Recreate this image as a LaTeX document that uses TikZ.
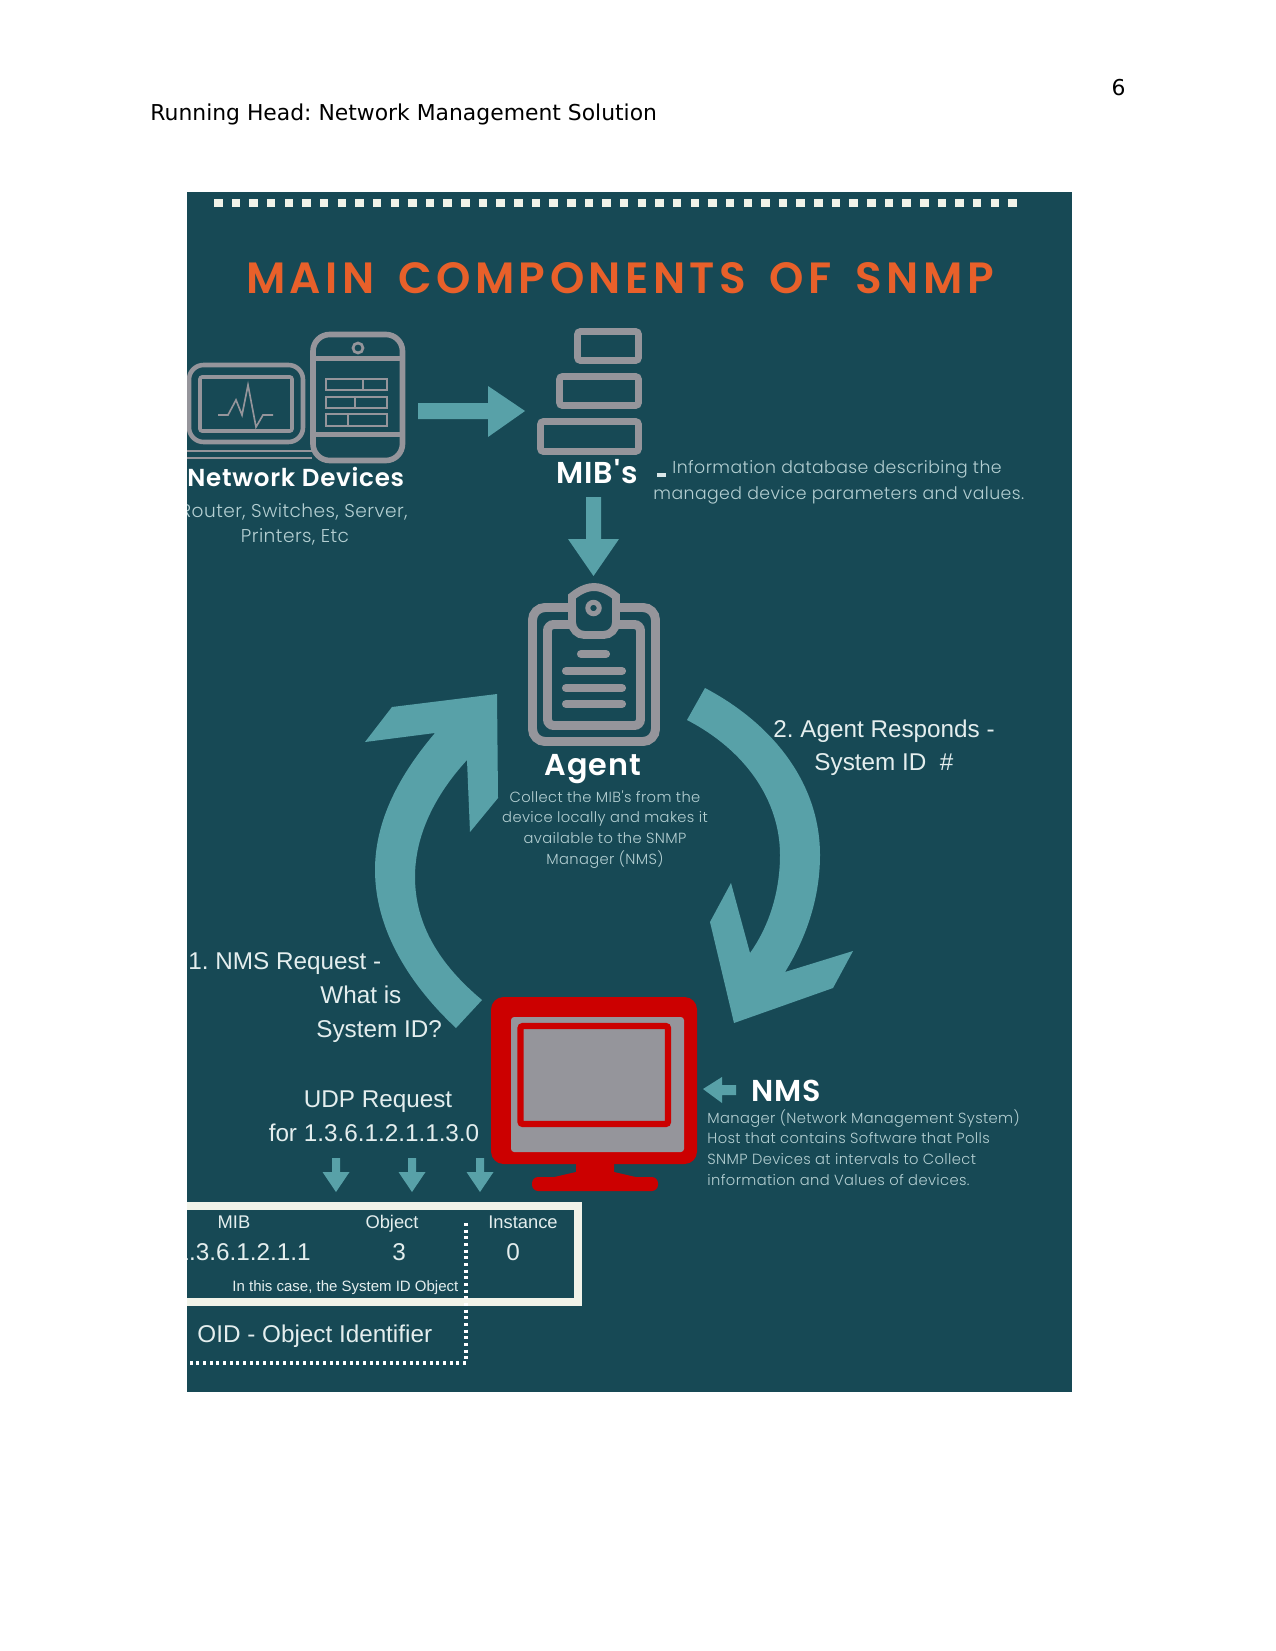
\documentclass[tikz,border=0pt]{standalone}
\usepackage{fontspec}
\usepackage{xcolor}
\setmainfont{Liberation Sans}
\newfontfamily\headfont{DejaVu Sans}
\newfontfamily\posterfont[LetterSpace=2.5]{Poppins Light}
\newfontfamily\headingfont[LetterSpace=3]{Poppins SemiBold}
\newfontfamily\titlefont[LetterSpace=10.2,WordSpace=1.6]{Poppins SemiBold}
\definecolor{snmpPanel}{HTML}{174955}
\definecolor{snmpTeal}{HTML}{58A1A8}
\definecolor{snmpGray}{HTML}{95959B}
\definecolor{snmpRed}{HTML}{CC0000}
\definecolor{snmpOrange}{HTML}{E8602A}
\definecolor{snmpCaption}{HTML}{B4CFD2}
\definecolor{snmpText}{HTML}{E4EEEE}
\definecolor{snmpCream}{HTML}{F1F3E9}
\usetikzlibrary{arrows.meta,calc,positioning}
\frenchspacing

\begin{document}
\begin{tikzpicture}[x=0.48pt,y=-0.48pt,
    caption/.style={text=snmpCaption,inner sep=0pt,font=\posterfont\fontsize{8.3}{10}\selectfont},
    smallcaption/.style={caption,font=\posterfont\fontsize{7.05}{9}\selectfont},
    heading/.style={text=white,inner sep=0pt,font=\headingfont\fontsize{11.8}{14}\selectfont},
    plain/.style={text=snmpText,inner sep=0pt,font=\fontsize{11.65}{14}\selectfont},
    tiny/.style={text=snmpText,inner sep=0pt,font=\fontsize{8.8}{11}\selectfont},
    icon/.style={draw=snmpGray,line width=3.3pt,rounded corners=1.5pt},
    bar/.style={draw=snmpGray,line width=3.9pt,line cap=round},
    cell/.style={draw=snmpGray,line width=0.9pt},
    flow/.style={fill=snmpTeal}]
  \path[use as bounding box] (0,0) rectangle (1275,1651);

  % page header
  \node[anchor=base east,inner sep=0pt,font=\headfont\fontsize{10.5}{13}\selectfont] (pagenum) at (1126,96) {6};
  \node[anchor=base west,inner sep=0pt,font=\headfont\fontsize{10.5}{13}\selectfont] (runhead) at (150,121) {Running Head: Network Management Solution};

  \fill[snmpPanel] (187,192) rectangle (1072,1392);

  \begin{scope}
    \clip (187,192) rectangle (1072,1392);

    % dotted strip and title
    \foreach \i in {0,...,45}
      \fill[snmpCream] ({214+\i*17.65},199) rectangle ++(8.5,8.5);
    \node[anchor=base,inner sep=0pt,text=snmpOrange,font=\titlefont\fontsize{21}{24}\selectfont] (title) at (620,294) {MAIN COMPONENTS OF SNMP};

    % laptop
    \draw[icon,line width=2.2pt,rounded corners=7pt] (189,365) rectangle (303,442);
    \draw[icon,line width=1.7pt,rounded corners=1pt] (200,377) rectangle (292,431);
    \draw[snmpGray,line width=0.8pt] (218,415) -- (228,415) -- (236,400) -- (242,415) -- (248,385) -- (256,427) -- (263,415) -- (273,415);
    \draw[snmpGray,line width=1.2pt] (187,451) -- (312,451) (187,458) -- (312,458);

    % phone
    \draw[icon,line width=2.7pt,fill=snmpPanel,rounded corners=8pt] (313,334.5) rectangle (402.5,460.5);
    \draw[snmpGray,line width=2.4pt] (313,358) -- (402.5,358) (313,434) -- (402.5,434);
    \draw[snmpGray,line width=1.3pt] (358,348) circle (5);
    \draw[cell] (326,379) rectangle (387,390) (363,379) -- (363,390);
    \draw[cell] (326,397) rectangle (387,408) (355,397) -- (355,408);
    \draw[cell] (326,414) rectangle (387,426) (348,414) -- (348,426);

    \node[heading,anchor=base west] (devices) at (187,486) {Network Devices};
    \node[caption,anchor=base east,font=\posterfont\fontsize{8.9}{10}\selectfont] (devlist) at (408,517) {Router, Switches, Server,};
    \node[caption,anchor=base,font=\posterfont\fontsize{8.9}{10}\selectfont] (devmore) at (295,542) {Printers, Etc};

    % arrow towards the MIB stack
    \fill[flow] (418,403) -- (488,403) -- (488,386) -- (525,411) -- (488,437) -- (488,419) -- (418,419) -- cycle;

    % MIB stack
    \draw[icon] (577.5,331.5) rectangle (638.5,360.5);
    \draw[icon] (559.5,376.5) rectangle (638.5,405.5);
    \draw[icon] (540.5,421.5) rectangle (638.5,451.5);
    \node[heading,anchor=base,font=\headingfont\fontsize{14.5}{16}\selectfont] (mibs) at (597,483) {MIB's};
    \fill[flow] (586,497) -- (601,497) -- (601,539) -- (619,539) -- (593.5,576) -- (568,539) -- (586,539) -- cycle;

    \draw[snmpCaption!50!white,line width=1.8pt] (657,475) -- (666,475);
    \node[caption,anchor=base west] (mibtext) at (672,473) {Information database describing the};
    \node[caption,anchor=base west] (mibmore) at (653,499) {managed device parameters and values.};

    % clipboard
    \draw[icon,line width=4.3pt,rounded corners=6pt] (532.5,607.5) rectangle (655.5,741.5);
    \draw[icon,line width=4.3pt,rounded corners=3pt] (547.5,624.5) rectangle (640.5,725.5);
    \draw[snmpGray,line width=3.8pt,fill=snmpPanel,rounded corners=6pt] (572,609) arc[start angle=180,end angle=360,radius=22] -- (616,635) -- (572,635) -- cycle;
    \draw[snmpGray,line width=2.4pt] (593.5,608) circle (5.7);
    \draw[bar] (581,654) -- (606,654);
    \draw[bar] (566,671) -- (622,671);
    \draw[bar] (566,688) -- (622,688);
    \draw[bar] (566,704) -- (622,704);

    \node[heading,anchor=base,font=\headingfont\fontsize{14.5}{16}\selectfont] (agent) at (593,775) {Agent};
    \node[smallcaption,anchor=base] (agent1) at (605,802) {Collect the MIB's from the};
    \node[smallcaption,anchor=base] (agent2) at (605,822) {device locally and makes it};
    \node[smallcaption,anchor=base] (agent3) at (605,843) {available to the SNMP};
    \node[smallcaption,anchor=base] (agent4) at (605,864) {Manager (NMS)};

    % request and response arrows
    \fill[flow] (497,694) -- (392,707) -- (365,742) -- (435,733) .. controls (395,780) and (375,825) .. (375,870)
      .. controls (375,930) and (410,985) .. (456,1028) -- (482,1000)
      .. controls (440,965) and (415,925) .. (415,877) .. controls (415,835) and (435,795) .. (467,760)
      -- (470,832) -- (498,798) -- cycle;
    \fill[flow] (705,688) .. controls (775,725) and (820,785) .. (820,855)
      .. controls (820,895) and (808,935) .. (785,972) -- (853,951) -- (833,988) -- (734,1023)
      -- (710,922) -- (731,883) -- (750,953) .. controls (770,925) and (780,890) .. (780,855)
      .. controls (780,800) and (745,750) .. (687,720) -- cycle;

    \node[plain,anchor=base west] (resp1) at (773,737) {2. Agent Responds -};
    \node[plain,anchor=base west] (resp2) at (814,770) {System ID\ \ \#};
    \node[plain,anchor=base west] (req1) at (188,969) {1. NMS Request -};
    \node[plain,anchor=base west] (req2) at (320,1003) {What is};
    \node[plain,anchor=base west] (req3) at (316,1037) {System ID?};

    % monitor
    \fill[snmpRed,rounded corners=6pt] (491,997) rectangle (697,1164);
    \fill[snmpRed] (576,1160) -- (614,1160) -- (614,1172) -- (640,1178) -- (550,1178) -- (576,1172) -- cycle;
    \fill[snmpRed,rounded corners=3pt] (532,1177) rectangle (658,1191);
    \fill[snmpGray,rounded corners=1.5pt] (511,1017) rectangle (684,1152);
    \draw[snmpRed,fill=snmpGray,line width=2.9pt,rounded corners=1pt] (520.5,1026) rectangle (668,1124);

    \fill[flow] (703,1089) -- (722,1077) -- (722,1085) -- (736,1085) -- (736,1095) -- (722,1095) -- (722,1103) -- cycle;
    \node[heading,anchor=base west,font=\headingfont\fontsize{14.5}{18}\selectfont] (nms) at (751,1101) {NMS};
    \node[smallcaption,anchor=base west] (nms1) at (707,1123) {Manager (Network Management System)};
    \node[smallcaption,anchor=base west] (nms2) at (707,1143) {Host that contains Software that Polls};
    \node[smallcaption,anchor=base west] (nms3) at (707,1164) {SNMP Devices at intervals to Collect};
    \node[smallcaption,anchor=base west] (nms4) at (707,1185) {information and Values of devices.};

    % request line and the OID box
    \node[plain,anchor=base] (udp1) at (378,1107) {UDP Request};
    \node[plain,anchor=base] (udp2) at (374,1141) {for 1.3.6.1.2.1.1.3.0};
    \foreach \x in {336,412,480}
      \fill[flow] (\x-4,1158) -- (\x+4,1158) -- (\x+4,1172) -- (\x+13.5,1172) -- (\x,1192) -- (\x-13.5,1172) -- (\x-4,1172) -- cycle;

    \draw[snmpCream,line width=3.4pt] (170,1206) -- (578,1206) -- (578,1302) -- (170,1302);
    \draw[white,line width=1.5pt,dash pattern=on 1.5pt off 1.7pt] (466,1223) -- (466,1363) -- (188,1363);

    \node[tiny,anchor=base] (mibhead) at (234,1228) {MIB};
    \node[tiny,anchor=base] (objhead) at (392,1228) {Object};
    \node[tiny,anchor=base] (insthead) at (523,1228) {Instance};
    \node[plain,anchor=base east] (mibval) at (311,1260) {1.3.6.1.2.1.1};
    \node[plain,anchor=base] (objval) at (399,1260) {3};
    \node[plain,anchor=base] (instval) at (513,1260) {0};
    \node[tiny,anchor=base west,font=\fontsize{7.2}{9}\selectfont] (objnote) at (232,1291) {In this case, the System ID Object};
    \node[plain,anchor=base west] (oid) at (197,1342) {OID - Object Identifier};
  \end{scope}
\end{tikzpicture}
\end{document}
